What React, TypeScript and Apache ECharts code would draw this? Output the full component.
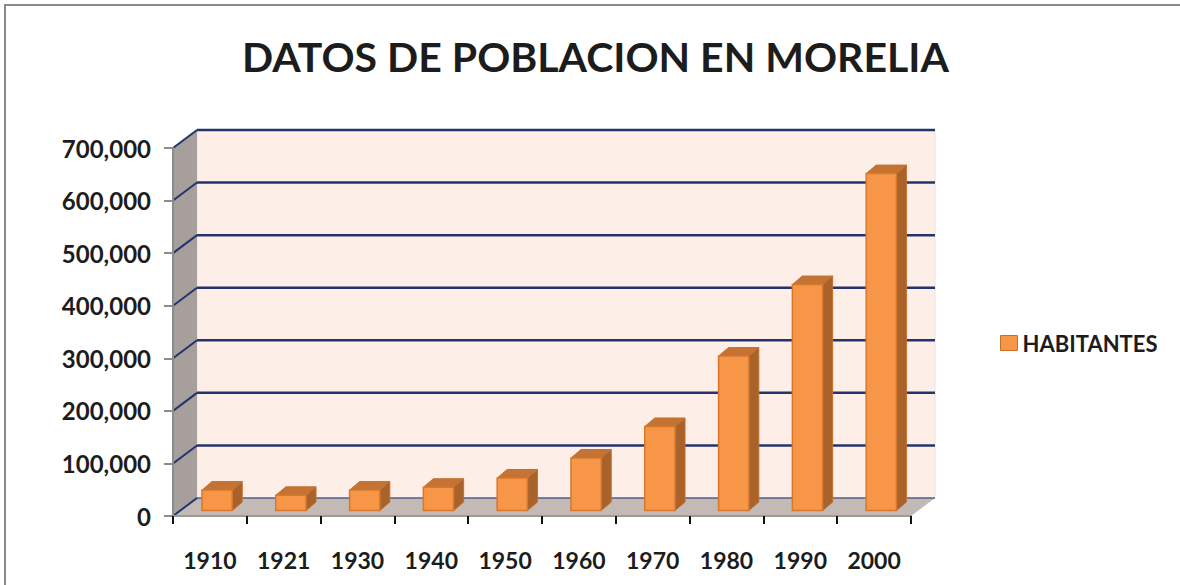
import React, { useEffect, useRef } from 'react';
import * as echarts from 'echarts';

const chartTitle = 'DATOS DE POBLACION EN MORELIA';
const seriesName = 'HABITANTES';
const years = ['1910', '1921', '1930', '1940', '1950', '1960', '1970', '1980', '1990', '2000'];
const habitantes = [39000, 29000, 39000, 44500, 62000, 100000, 160000, 294000, 430000, 641000];
const yTicks = [0, 100000, 200000, 300000, 400000, 500000, 600000, 700000];

const FONT = 'Lato';

export default function App() {
  const ref = useRef<HTMLDivElement>(null);
  useEffect(() => {
    document.body.style.margin = '0';
    const chart = echarts.init(ref.current!, null, { renderer: 'svg' });
    const DX = 24;
    const DY = -18;
    const F1 = 0.3;
    const BDX = 10;
    const BDY = -8.5;

    const option: any = {
      animation: false,
      backgroundColor: '#ffffff',
      title: {
        text: chartTitle,
        left: 242,
        top: 36,
        padding: 0,
        textStyle: { fontFamily: FONT, fontWeight: 'bold', fontSize: 41, color: '#1c1c1c' },
      },
      legend: {
        data: [seriesName],
        left: 995,
        top: 327,
        itemWidth: 17,
        itemHeight: 15,
        icon: 'rect',
        itemStyle: { color: '#F79646', borderColor: '#C4702C', borderWidth: 1 },
        textStyle: { fontFamily: FONT, fontWeight: 'bold', fontSize: 22, color: '#1c1c1c' },
      },
      graphic: [
        {
          type: 'polyline',
          shape: { points: [[5, 600], [5, 5], [1200, 5]] },
          style: { stroke: '#8a8a8a', lineWidth: 2, fill: 'none' },
          silent: true,
        },
      ],
      grid: { left: 173, top: 148, right: 269, bottom: 69, containLabel: false },
      xAxis: {
        type: 'category',
        data: years,
        boundaryGap: true,
        z: 10,
        axisLine: { show: true, lineStyle: { color: '#9a9a9a', width: 2 } },
        axisTick: { show: true, length: 8, lineStyle: { color: '#111', width: 2 } },
        axisLabel: { margin: 32, fontFamily: FONT, fontWeight: 'bold', fontSize: 23, color: '#1c1c1c' },
        splitLine: { show: false },
      },
      yAxis: {
        type: 'value',
        min: 0,
        max: 700000,
        interval: 100000,
        z: 10,
        axisLine: { show: true, lineStyle: { color: '#8c8c8c', width: 2 } },
        axisTick: { show: true, length: 9, lineStyle: { color: '#8c8c8c', width: 2 } },
        axisLabel: {
          margin: 22,
          fontFamily: FONT,
          fontWeight: 'bold',
          fontSize: 24,
          color: '#1c1c1c',
          formatter: (v: number) => v.toLocaleString('en-US'),
        },
        splitLine: { show: false },
      },
      series: [
        {
          type: 'custom',
          name: 'walls',
          silent: true,
          z: 1,
          data: [[0, 0]],
          renderItem: (params: any, api: any) => {
            const cs = params.coordSys;
            const x0 = cs.x;
            const x1 = cs.x + cs.width;
            const yT = cs.y;
            const yB = cs.y + cs.height;
            const children: any[] = [];
            children.push({
              type: 'polygon',
              shape: { points: [[x0 + DX, yT + DY], [x1 + DX, yT + DY], [x1 + DX, yB + DY], [x0 + DX, yB + DY]] },
              style: { fill: '#FDEEE7', stroke: '#EDE3DF', lineWidth: 1 },
            });
            children.push({
              type: 'polygon',
              shape: { points: [[x0, yT], [x0 + DX, yT + DY], [x0 + DX, yB + DY], [x0, yB]] },
              style: { fill: '#A69F9B' },
            });
            children.push({
              type: 'polygon',
              shape: { points: [[x0, yB], [x1, yB], [x1 + DX, yB + DY], [x0 + DX, yB + DY]] },
              style: { fill: '#C3BAB6' },
            });
            yTicks.forEach((v) => {
              const y = api.coord([0, v])[1];
              const isZero = v === 0;
              const color = isZero ? '#4F5F91' : '#22346E';
              const lw = isZero ? 1.5 : 2.5;
              children.push({
                type: 'line',
                shape: { x1: x0 + DX, y1: y + DY, x2: x1 + DX, y2: y + DY },
                style: { stroke: color, lineWidth: lw },
              });
              children.push({
                type: 'line',
                shape: { x1: x0, y1: y, x2: x0 + DX, y2: y + DY },
                style: { stroke: '#22346E', lineWidth: 2 },
              });
            });
            return { type: 'group', children };
          },
        },
        {
          type: 'custom',
          name: seriesName,
          z: 3,
          itemStyle: { color: '#F79646', borderColor: '#C4702C', borderWidth: 1 },
          data: habitantes.map((v, i) => [i, v]),
          encode: { x: 0, y: 1 },
          renderItem: (params: any, api: any) => {
            const i = api.value(0);
            const v = api.value(1);
            const top = api.coord([i, v]);
            const bot = api.coord([i, 0]);
            const band = api.size([1, 0])[0];
            const bw = band * 0.41;
            const ox = F1 * DX;
            const oy = F1 * DY;
            const L = top[0] + ox - bw / 2;
            const R = L + bw;
            const T = top[1] + oy;
            const B = bot[1] + oy;
            const stroke = '#C4702C';
            return {
              type: 'group',
              children: [
                {
                  type: 'polygon',
                  shape: { points: [[R, T], [R + BDX, T + BDY], [R + BDX, B + BDY], [R, B]] },
                  style: { fill: '#A8622A', stroke, lineWidth: 1 },
                },
                {
                  type: 'polygon',
                  shape: { points: [[L, T], [R, T], [R + BDX, T + BDY], [L + BDX, T + BDY]] },
                  style: { fill: '#C47332', stroke, lineWidth: 1 },
                },
                {
                  type: 'rect',
                  shape: { x: L, y: T, width: bw, height: B - T },
                  style: { fill: '#F79646', stroke: '#D7782E', lineWidth: 1.5 },
                },
              ],
            };
          },
        },
      ],
    };
    chart.setOption(option);
    return () => chart.dispose();
  }, []);
  return <div ref={ref} style={{ width: 1180, height: 585 }} />;
}
